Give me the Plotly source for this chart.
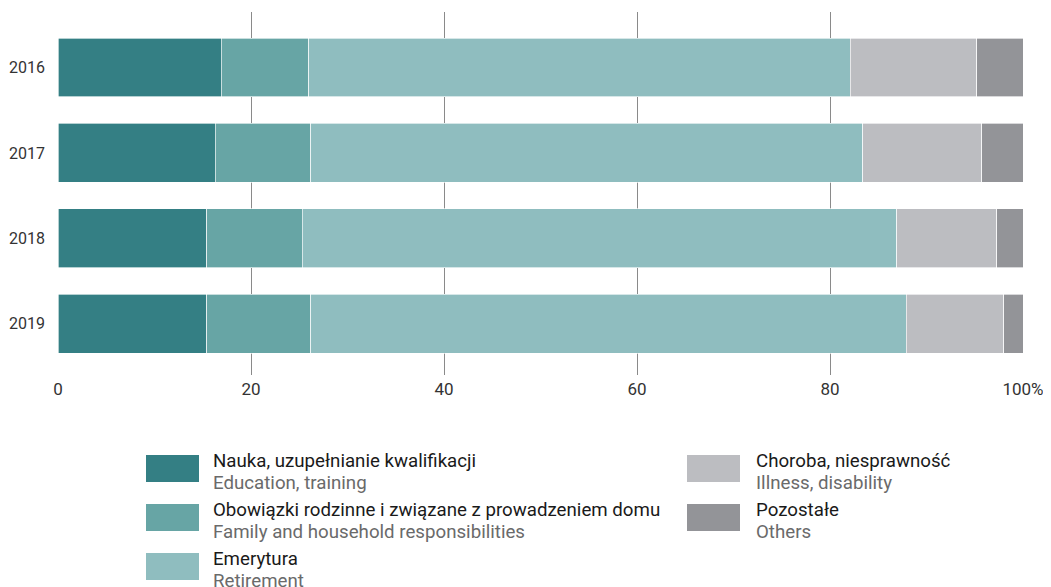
import plotly.graph_objects as go

years = ["2016", "2017", "2018", "2019"]
names_pl = ["Nauka, uzupełnianie kwalifikacji",
            "Obowiązki rodzinne i związane z prowadzeniem domu",
            "Emerytura",
            "Choroba, niesprawność",
            "Pozostałe"]
names_en = ["Education, training",
            "Family and household responsibilities",
            "Retirement",
            "Illness, disability",
            "Others"]
nauka = [16.9, 16.3, 15.4, 15.4]
obowiazki = [9.1, 9.9, 9.9, 10.8]
emerytura = [56.1, 57.2, 61.6, 61.7]
choroba = [13.1, 12.3, 10.4, 10.1]
pozostale = [4.8, 4.3, 2.7, 2.0]
series = [nauka, obowiazki, emerytura, choroba, pozostale]
colors = ["#347f84", "#67a5a5", "#8fbdbf", "#bcbdc1", "#939498"]
x_ticks = [0, 20, 40, 60, 80, 100]
x_ticklabels = ["0", "20", "40", "60", "80", "100%"]

tick_font = "Roboto, sans-serif"
leg_font = "Roboto, Noto Sans, sans-serif"

fig = go.Figure()
for name, vals, col in zip(names_pl, series, colors):
    fig.add_trace(go.Bar(
        y=years, x=vals, name=name, orientation="h",
        marker=dict(color=col, line=dict(color="rgba(255,255,255,0.8)", width=0.8)),
        showlegend=False,
    ))

# page body offset (browser default margin)
OX, OY = 8, 8
W, H = 1051, 587
L, T, PW, PH = 58 - OX, 12 - OY, 965, 363
positions = [(146, 455), (146, 504), (146, 553), (687, 455), (687, 504)]
text_dx = [68, 68, 68, 70, 70]
shapes = []
annotations = []
for (px, py), dx, col, pl, en in zip(positions, text_dx, colors, names_pl, names_en):
    px -= OX
    py -= OY
    shapes.append(dict(type="rect", xref="paper", yref="paper",
                       x0=(px - L) / PW, x1=(px + 53 - L) / PW,
                       y0=(T + PH - (py + 27)) / PH, y1=(T + PH - py) / PH,
                       fillcolor=col, line=dict(width=0)))
    tx = (px + dx - L) / PW
    annotations.append(dict(xref="paper", yref="paper", x=tx, y=(T + PH - (py + 6)) / PH,
                            text=pl, showarrow=False, xanchor="left", yanchor="middle",
                            xshift=-3,
                            font=dict(family=leg_font, size=18.7, color="#1a1a1a")))
    annotations.append(dict(xref="paper", yref="paper", x=tx, y=(T + PH - (py + 28)) / PH,
                            text=en, showarrow=False, xanchor="left", yanchor="middle",
                            xshift=-3,
                            font=dict(family=leg_font, size=18.7, color="#6a6a6a")))

fig.update_layout(
    barmode="stack",
    bargap=0.31,
    width=W, height=H,
    margin=dict(l=L, r=W - L - PW, t=T, b=H - T - PH, autoexpand=False),
    plot_bgcolor="white", paper_bgcolor="white",
    shapes=shapes, annotations=annotations,
    xaxis=dict(range=[0, 100], tickvals=x_ticks, ticktext=x_ticklabels,
               showgrid=True, gridcolor="#8a8a8a", gridwidth=1,
               zeroline=False, showline=False, automargin=False,
               tickfont=dict(family=tick_font, size=17, color="#333333"),
               ticks="", ticklabelstandoff=2),
    yaxis=dict(type="category", categoryorder="array", categoryarray=years,
               range=[3.6, -0.65], showgrid=False, zeroline=False, showline=False,
               automargin=False,
               tickfont=dict(family=tick_font, size=16, color="#333333"),
               ticks="", ticklabelstandoff=12),
)
fig.write_html("out.html")
